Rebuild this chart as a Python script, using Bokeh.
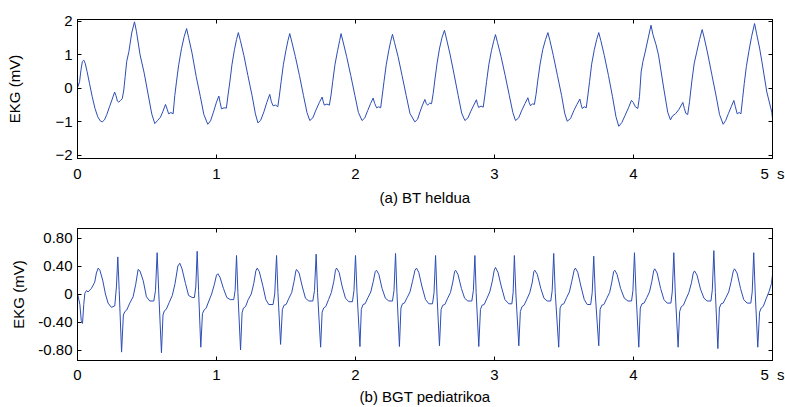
from bokeh.plotting import figure
from bokeh.models import LinearAxis, FixedTicker, Range1d
from bokeh.layouts import column
from bokeh.embed import file_html
from bokeh.resources import INLINE

# ---------------- data ----------------
x_ticks = [0, 1, 2, 3, 4, 5]
x_tick_labels = ["0", "1", "2", "3", "4", "5\u00a0\u00a0s"]
top_y_ticks = [-2, -1, 0, 1, 2]
bottom_y_ticks = [-0.8, -0.4, 0, 0.4, 0.8]
bottom_y_tick_labels = ["-0.80", "-0.40", "0", "0.40", "0.80"]

# (a) BT heldua : time [s]
top_t = [
    0.000, 0.015, 0.025, 0.035, 0.045, 0.055, 0.069, 0.086, 0.106, 0.126, 0.146, 0.164, 0.178, 0.194, 0.211,
    0.230, 0.250, 0.267, 0.277, 0.287, 0.297, 0.310, 0.322, 0.333, 0.343, 0.354, 0.370, 0.390, 0.410,
    0.424, 0.450, 0.480, 0.509, 0.534, 0.556, 0.578, 0.597, 0.615, 0.633, 0.645, 0.656, 0.672, 0.688,
    0.700, 0.712, 0.728, 0.748, 0.768, 0.785,
    0.799, 0.824, 0.854, 0.884, 0.909, 0.937, 0.957, 0.978, 1.000, 1.017, 1.026, 1.036, 1.055, 1.071,
    1.083, 1.096, 1.111, 1.129, 1.144, 1.157,
    1.172, 1.197, 1.226, 1.256, 1.280, 1.298, 1.318, 1.341, 1.362, 1.383, 1.395, 1.407, 1.425, 1.441,
    1.453, 1.465, 1.481, 1.499, 1.514, 1.527,
    1.542, 1.567, 1.597, 1.626, 1.651, 1.671, 1.693, 1.715, 1.740, 1.760, 1.768, 1.776, 1.794, 1.812,
    1.824, 1.836, 1.852, 1.871, 1.886, 1.896,
    1.911, 1.936, 1.966, 1.996, 2.021, 2.047, 2.067, 2.088, 2.109, 2.127, 2.138, 2.152, 2.167, 2.181,
    2.193, 2.205, 2.221, 2.239, 2.253, 2.266,
    2.281, 2.306, 2.335, 2.365, 2.392, 2.427, 2.447, 2.464, 2.482, 2.499, 2.509, 2.519, 2.534, 2.547,
    2.559, 2.571, 2.587, 2.605, 2.623, 2.640,
    2.655, 2.680, 2.710, 2.739, 2.764, 2.787, 2.809, 2.830, 2.851, 2.870, 2.878, 2.886, 2.903, 2.919,
    2.931, 2.943, 2.959, 2.978, 2.994, 3.007,
    3.022, 3.047, 3.077, 3.107, 3.132, 3.151, 3.174, 3.197, 3.220, 3.240, 3.249, 3.259, 3.273, 3.287,
    3.299, 3.311, 3.328, 3.347, 3.367, 3.384,
    3.399, 3.423, 3.453, 3.483, 3.505, 3.523, 3.547, 3.571, 3.593, 3.614, 3.623, 3.631, 3.646, 3.660,
    3.672, 3.684, 3.699, 3.718, 3.735, 3.750,
    3.765, 3.790, 3.820, 3.849, 3.874, 3.894, 3.916, 3.939, 3.964, 3.985, 3.998, 4.013, 4.031,
    4.043, 4.055, 4.068, 4.084, 4.106, 4.126,
    4.140, 4.162, 4.180, 4.216, 4.246, 4.266, 4.281, 4.302, 4.328, 4.355, 4.366, 4.377, 4.390,
    4.403, 4.419, 4.437, 4.455, 4.475, 4.494,
    4.509, 4.533, 4.563, 4.593, 4.619, 4.645, 4.663, 4.683, 4.703, 4.722, 4.733, 4.746, 4.760, 4.773,
    4.785, 4.797, 4.812, 4.830, 4.850, 4.871,
    4.886, 4.907, 4.924, 4.959, 4.995, 5.000,
]
# (a) BT heldua : EKG [mV]
top_mv = [
    0.02, 0.20, 0.55, 0.80, 0.84, 0.75, 0.50, 0.15, -0.25, -0.60, -0.85, -0.97, -1.00, -0.94, -0.78,
    -0.55, -0.32, -0.11, -0.22, -0.38, -0.41, -0.36, -0.31, -0.05, 0.35, 0.80, 1.10, 1.65, 1.98,
    1.70, 1.00, 0.45, -0.20, -0.76, -1.05, -0.95, -0.86, -0.68, -0.48, -0.62, -0.76, -0.72, -0.76,
    -0.21, 0.19, 0.70, 1.18, 1.55, 1.78,
    1.52, 1.05, 0.35, -0.25, -0.78, -1.07, -0.97, -0.71, -0.41, -0.23, -0.42, -0.61, -0.58, -0.59,
    -0.20, 0.19, 0.70, 1.15, 1.45, 1.66,
    1.42, 0.98, 0.38, -0.22, -0.76, -1.03, -0.95, -0.70, -0.42, -0.18, -0.40, -0.52, -0.50, -0.55,
    -0.20, 0.20, 0.70, 1.12, 1.42, 1.63,
    1.38, 0.95, 0.38, -0.22, -0.72, -0.96, -0.88, -0.65, -0.42, -0.26, -0.40, -0.50, -0.47, -0.50,
    -0.20, 0.20, 0.70, 1.12, 1.42, 1.63,
    1.38, 0.95, 0.38, -0.22, -0.72, -0.96, -0.88, -0.66, -0.45, -0.29, -0.45, -0.58, -0.55, -0.58,
    -0.20, 0.20, 0.70, 1.12, 1.40, 1.61,
    1.36, 0.95, 0.38, -0.22, -0.75, -1.00, -0.92, -0.70, -0.50, -0.33, -0.45, -0.50, -0.44, -0.46,
    -0.15, 0.25, 0.75, 1.20, 1.52, 1.73,
    1.47, 1.02, 0.40, -0.22, -0.74, -0.96, -0.88, -0.68, -0.50, -0.34, -0.48, -0.57, -0.53, -0.56,
    -0.20, 0.20, 0.70, 1.12, 1.40, 1.60,
    1.36, 0.95, 0.38, -0.22, -0.72, -0.96, -0.88, -0.65, -0.45, -0.28, -0.42, -0.52, -0.46, -0.48,
    -0.18, 0.22, 0.72, 1.15, 1.45, 1.66,
    1.42, 0.98, 0.38, -0.22, -0.74, -0.98, -0.90, -0.66, -0.48, -0.32, -0.48, -0.60, -0.55, -0.58,
    -0.20, 0.20, 0.72, 1.15, 1.45, 1.66,
    1.42, 0.98, 0.38, -0.25, -0.85, -1.13, -1.02, -0.81, -0.58, -0.36, -0.42, -0.55, -0.60,
    -0.25, 0.49, 0.80, 1.08, 1.50, 1.88,
    1.60, 1.30, 0.99, 0.04, -0.71, -0.94, -0.82, -0.76, -0.62, -0.42, -0.60, -0.75, -0.78,
    -0.40, 0.19, 0.75, 1.08, 1.45, 1.75,
    1.50, 1.05, 0.42, -0.20, -0.78, -1.07, -0.96, -0.75, -0.55, -0.36, -0.55, -0.76, -0.72, -0.76,
    -0.30, 0.15, 0.65, 1.10, 1.55, 1.93,
    1.62, 1.20, 0.79, -0.11, -0.71, -0.90,
]

# (b) BGT pediatrikoa : time [s]
bottom_t = [
    0.000, 0.017, 0.027, 0.036, 0.045, 0.053, 0.065, 0.076, 0.100, 0.124, 0.136, 0.149, 0.161, 0.181,
    0.201, 0.220, 0.244, 0.268, 0.280, 0.290, 0.300, 0.317,
    0.330, 0.341, 0.354, 0.376, 0.400, 0.419, 0.436, 0.449, 0.473, 0.496, 0.520, 0.549, 0.561, 0.573, 0.585, 0.604,
    0.615, 0.625, 0.638, 0.660, 0.682, 0.702, 0.722, 0.736, 0.752, 0.777, 0.799, 0.825, 0.841, 0.851, 0.861, 0.871, 0.887,
    0.899, 0.911, 0.926, 0.945, 0.965, 0.985, 1.000, 1.010, 1.025, 1.050, 1.074, 1.099, 1.124, 1.134, 1.144, 1.154, 1.173,
    1.184, 1.194, 1.209, 1.228, 1.250, 1.268, 1.283, 1.293, 1.308, 1.333, 1.355, 1.376, 1.407, 1.419, 1.432, 1.442, 1.461,
    1.474, 1.486, 1.501, 1.521, 1.541, 1.558, 1.571, 1.576, 1.594, 1.618, 1.640, 1.664, 1.693, 1.705, 1.717, 1.727, 1.749,
    1.760, 1.771, 1.786, 1.806, 1.826, 1.844, 1.856, 1.864, 1.882, 1.905, 1.928, 1.952, 1.978, 1.989, 2.000, 2.011, 2.032,
    2.042, 2.054, 2.069, 2.090, 2.110, 2.128, 2.142, 2.151, 2.168, 2.191, 2.215, 2.240, 2.266, 2.277, 2.288, 2.298, 2.316,
    2.327, 2.338, 2.352, 2.372, 2.392, 2.410, 2.428, 2.439, 2.455, 2.479, 2.504, 2.528, 2.554, 2.565, 2.576, 2.586, 2.604,
    2.616, 2.628, 2.643, 2.663, 2.683, 2.700, 2.713, 2.720, 2.737, 2.762, 2.785, 2.808, 2.837, 2.848, 2.859, 2.868, 2.887,
    2.899, 2.911, 2.926, 2.946, 2.966, 2.984, 2.998, 3.007, 3.025, 3.050, 3.075, 3.103, 3.125, 3.134, 3.143, 3.154, 3.175,
    3.186, 3.198, 3.213, 3.234, 3.254, 3.272, 3.283, 3.290, 3.308, 3.333, 3.356, 3.379, 3.405, 3.415, 3.426, 3.437, 3.462,
    3.472, 3.484, 3.499, 3.519, 3.539, 3.556, 3.573, 3.582, 3.599, 3.623, 3.646, 3.667, 3.692, 3.703, 3.714, 3.725, 3.750,
    3.760, 3.772, 3.787, 3.808, 3.828, 3.844, 3.857, 3.865, 3.882, 3.907, 3.934, 3.960, 3.986, 3.996, 4.007, 4.018, 4.038,
    4.049, 4.061, 4.076, 4.096, 4.115, 4.132, 4.145, 4.153, 4.170, 4.195, 4.219, 4.242, 4.269, 4.279, 4.290, 4.301, 4.321,
    4.332, 4.344, 4.359, 4.378, 4.398, 4.417, 4.430, 4.439, 4.457, 4.482, 4.507, 4.530, 4.557, 4.567, 4.578, 4.589, 4.607,
    4.618, 4.630, 4.645, 4.665, 4.685, 4.703, 4.718, 4.727, 4.745, 4.770, 4.793, 4.817, 4.844, 4.854, 4.865, 4.876, 4.894,
    4.907, 4.919, 4.933, 4.956, 4.976, 4.993, 5.000,
]
# (b) BGT pediatrikoa : EKG [mV]
bottom_mv = [
    0.01, -0.15, -0.38, -0.42, -0.15, 0.01, 0.05, 0.03, 0.08, 0.17, 0.30, 0.37, 0.34, 0.20,
    0.00, -0.13, -0.19, -0.17, 0.10, 0.53, 0.05, -0.83,
    -0.30, -0.25, -0.23, -0.13, -0.04, 0.14, 0.35, 0.33, 0.19, -0.04, -0.10, -0.10, 0.05, 0.59, 0.00, -0.84,
    -0.30, -0.24, -0.22, -0.12, -0.02, 0.15, 0.40, 0.44, 0.36, 0.15, -0.02, -0.05, -0.05, 0.10, 0.61, 0.05, -0.76,
    -0.28, -0.23, -0.20, -0.10, 0.00, 0.14, 0.27, 0.29, 0.24, 0.08, -0.05, -0.08, -0.08, 0.05, 0.55, 0.02, -0.80,
    -0.27, -0.20, -0.18, -0.08, 0.00, 0.15, 0.33, 0.37, 0.32, 0.12, -0.08, -0.15, -0.15, 0.00, 0.55, 0.02, -0.72,
    -0.22, -0.16, -0.15, -0.06, 0.02, 0.18, 0.33, 0.35, 0.30, 0.10, -0.06, -0.10, -0.10, 0.05, 0.57, 0.02, -0.76,
    -0.26, -0.20, -0.18, -0.08, 0.02, 0.18, 0.34, 0.37, 0.31, 0.10, -0.06, -0.11, -0.11, 0.05, 0.55, 0.02, -0.75,
    -0.22, -0.15, -0.14, -0.05, 0.03, 0.18, 0.32, 0.34, 0.28, 0.08, -0.06, -0.10, -0.10, 0.05, 0.58, 0.02, -0.75,
    -0.20, -0.14, -0.13, -0.05, 0.03, 0.18, 0.34, 0.37, 0.31, 0.10, -0.08, -0.14, -0.14, 0.02, 0.55, 0.00, -0.74,
    -0.22, -0.16, -0.15, -0.06, 0.02, 0.17, 0.32, 0.34, 0.28, 0.08, -0.06, -0.10, -0.10, 0.05, 0.55, 0.02, -0.75,
    -0.22, -0.16, -0.15, -0.06, 0.03, 0.18, 0.34, 0.38, 0.31, 0.10, -0.08, -0.14, -0.14, 0.02, 0.55, 0.00, -0.74,
    -0.25, -0.18, -0.16, -0.07, 0.02, 0.17, 0.32, 0.34, 0.28, 0.08, -0.06, -0.10, -0.10, 0.05, 0.58, 0.02, -0.76,
    -0.20, -0.15, -0.14, -0.05, 0.03, 0.18, 0.34, 0.37, 0.31, 0.10, -0.08, -0.15, -0.15, 0.02, 0.54, 0.00, -0.74,
    -0.22, -0.16, -0.15, -0.06, 0.02, 0.17, 0.32, 0.34, 0.28, 0.08, -0.06, -0.10, -0.10, 0.05, 0.59, 0.02, -0.76,
    -0.20, -0.14, -0.13, -0.05, 0.03, 0.18, 0.33, 0.36, 0.30, 0.08, -0.08, -0.13, -0.13, 0.03, 0.59, 0.00, -0.76,
    -0.25, -0.18, -0.16, -0.07, 0.02, 0.16, 0.30, 0.33, 0.27, 0.07, -0.06, -0.10, -0.10, 0.06, 0.62, 0.02, -0.78,
    -0.20, -0.14, -0.13, -0.05, 0.03, 0.18, 0.33, 0.36, 0.30, 0.08, -0.08, -0.13, -0.13, 0.03, 0.59, 0.00, -0.76,
    -0.26, -0.20, -0.18, -0.06, 0.04, 0.15, 0.28,
]

# ---------------- styling ----------------
FONT = "Liberation Sans"
FONT_SIZE = "15px"
LINE_COLOR = "#2c4db5"


def style_axis(ax, ticks, show_labels, labels=None):
    ax.ticker = FixedTicker(ticks=ticks)
    ax.axis_line_color = "black"
    ax.major_tick_line_color = "black"
    ax.major_tick_in = 4
    ax.major_tick_out = 0
    ax.minor_tick_line_color = None
    ax.major_label_text_font = FONT
    if show_labels:
        ax.major_label_text_font_size = FONT_SIZE
        ax.major_label_text_color = "black"
        if labels is not None:
            ax.major_label_overrides = {v: s for v, s in zip(ticks, labels)}
    else:
        ax.major_label_text_font_size = "0px"
        ax.major_label_text_color = None
        ax.major_label_standoff = 0
    ax.axis_label_text_font = FONT
    ax.axis_label_text_font_size = FONT_SIZE
    ax.axis_label_text_font_style = "normal"
    ax.axis_label_text_color = "black"


def make_panel(t, mv, yr, yticks, ylabels, height, border_top, border_bottom,
               title, x_standoff, title_standoff, ylab_standoff):
    p = figure(width=785, height=height,
               x_range=Range1d(0, 5), y_range=Range1d(*yr),
               output_backend="svg", toolbar_location=None,
               min_border_left=77, min_border_right=13,
               min_border_top=border_top, min_border_bottom=border_bottom)
    p.background_fill_color = "white"
    p.border_fill_color = "white"
    p.outline_line_color = "black"
    p.outline_line_alpha = 1.0
    p.xgrid.grid_line_color = None
    p.ygrid.grid_line_color = None

    xa = p.xaxis[0]
    style_axis(xa, x_ticks, True, x_tick_labels)
    xa.major_label_standoff = x_standoff
    xa.axis_label = title
    xa.axis_label_standoff = title_standoff

    ya = p.yaxis[0]
    style_axis(ya, yticks, True, ylabels)
    ya.major_label_standoff = 5
    ya.axis_label = "EKG (mV)"
    ya.axis_label_standoff = ylab_standoff

    top_ax = LinearAxis()
    style_axis(top_ax, x_ticks, False)
    p.add_layout(top_ax, "above")
    right_ax = LinearAxis()
    style_axis(right_ax, yticks, False)
    p.add_layout(right_ax, "right")

    p.line(t, mv, line_color=LINE_COLOR, line_width=1)
    return p


p1 = make_panel(top_t, top_mv, (-2.09, 2.05), top_y_ticks, None,
                210, 19, 52, "(a) BT heldua", 6, 4, 29)
p2 = make_panel(bottom_t, bottom_mv, (-0.95, 0.936), bottom_y_ticks, bottom_y_tick_labels,
                197, 18, 40, "(b) BGT pediatrikoa", 5, 2, 8)

layout = column(p1, p2, spacing=0)
open("out.html", "w").write(file_html(layout, INLINE))
